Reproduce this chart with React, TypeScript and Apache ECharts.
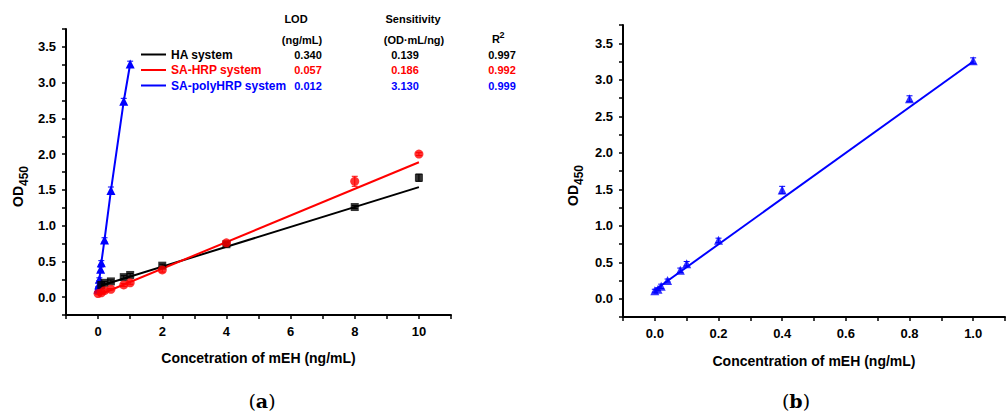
import React, { useEffect, useRef } from 'react';
import * as echarts from 'echarts';

// ---- data ----
const haConc = [0.1, 0.2, 0.4, 0.8, 1, 2, 4, 8, 10];
const haOD = [0.17, 0.2, 0.22, 0.28, 0.31, 0.44, 0.74, 1.26, 1.67];
const haErr = [0.02, 0.02, 0.02, 0.02, 0.02, 0.02, 0.02, 0.02, 0.05];

const hrpConc = [0, 0.1, 0.2, 0.4, 0.8, 1, 2, 4, 8, 10];
const hrpOD = [0.05, 0.06, 0.09, 0.11, 0.17, 0.2, 0.38, 0.76, 1.62, 2.0];
const hrpErr = [0.01, 0.01, 0.01, 0.01, 0.02, 0.02, 0.03, 0.02, 0.07, 0.02];

const polyConc = [0, 0.01, 0.02, 0.04, 0.08, 0.1, 0.2, 0.4, 0.8, 1.0];
const polyOD = [0.11, 0.13, 0.17, 0.25, 0.39, 0.48, 0.8, 1.49, 2.74, 3.26];
const polyErr = [0.02, 0.02, 0.03, 0.02, 0.03, 0.03, 0.03, 0.05, 0.04, 0.04];

// linear fits: [intercept, slope, xStart, xEnd]
const haFit = [0.148, 0.139, 0.1, 10];
const hrpFit = [0.026, 0.186, 0, 10];
const polyFit = [0.12, 3.13, 0, 1];

const systems = ['HA system', 'SA-HRP system', 'SA-polyHRP system'];
const lodVals = ['0.340', '0.057', '0.012'];
const sensVals = ['0.139', '0.186', '3.130'];
const r2Vals = ['0.997', '0.992', '0.999'];
const sysColors = ['#000000', '#ff0000', '#0000ff'];

const xTitleA = 'Concetration of mEH (ng/mL)';
const xTitleB = 'Concentration of mEH (ng/mL)';

const FONT = '"Liberation Sans", Arial, sans-serif';

function fitLine(fit: number[], color: string, idx: number) {
  const [a, b, x0, x1] = fit;
  return {
    type: 'line',
    xAxisIndex: idx,
    yAxisIndex: idx,
    data: [
      [x0, a + b * x0],
      [x1, a + b * x1],
    ],
    symbol: 'none',
    lineStyle: { color, width: 2 },
    z: 2,
    silent: true,
  };
}

function errSeries(xs: number[], ys: number[], es: number[], color: string, idx: number) {
  return {
    type: 'custom',
    xAxisIndex: idx,
    yAxisIndex: idx,
    z: 3,
    silent: true,
    data: xs.map((x, i) => [x, ys[i], es[i]]),
    renderItem: (params: any, api: any) => {
      const x = api.value(0);
      const y = api.value(1);
      const e = api.value(2);
      const t = api.coord([x, y + e]);
      const b = api.coord([x, y - e]);
      const w = 3;
      const st = { stroke: color, lineWidth: 1 };
      return {
        type: 'group',
        children: [
          { type: 'line', shape: { x1: t[0], y1: t[1], x2: b[0], y2: b[1] }, style: st },
          { type: 'line', shape: { x1: t[0] - w, y1: t[1], x2: t[0] + w, y2: t[1] }, style: st },
          { type: 'line', shape: { x1: b[0] - w, y1: b[1], x2: b[0] + w, y2: b[1] }, style: st },
        ],
      };
    },
  };
}

function scatter(xs: number[], ys: number[], color: string, symbol: string, size: number, idx: number) {
  return {
    type: 'scatter',
    xAxisIndex: idx,
    yAxisIndex: idx,
    data: xs.map((x, i) => [x, ys[i]]),
    symbol,
    symbolSize: size,
    itemStyle: { color },
    z: 4,
    silent: true,
  };
}

const axisLine = { show: true, onZero: false, lineStyle: { color: '#000', width: 2 } };
const axisTick = { show: true, inside: false, length: 4, lineStyle: { color: '#000', width: 1.5 } };
const labelStyle = { color: '#000', fontWeight: 'bold', fontSize: 13, fontFamily: FONT };
const nameStyle = { color: '#000', fontWeight: 'bold', fontSize: 14, fontFamily: FONT };

function yAxis(idx: number) {
  return {
    gridIndex: idx,
    type: 'value',
    min: -0.25,
    max: 3.75,
    interval: 0.25,
    axisLine,
    axisTick,
    splitLine: { show: false },
    axisLabel: {
      ...labelStyle,
      margin: 10,
      formatter: (v: number) => {
        const k = Math.round(v * 4);
        if (k % 2 !== 0 || k < 0 || k > 14) return '';
        return (k / 4).toFixed(1);
      },
    },
  };
}

export default function App() {
  const ref = useRef<HTMLDivElement>(null);
  useEffect(() => {
    if (!ref.current) return;
    const chart = echarts.init(ref.current, null, { renderer: 'svg' });

    const graphics: any[] = [];
    // legend
    const legY = [54.5, 70, 85.5];
    systems.forEach((s, i) => {
      graphics.push({
        type: 'line',
        shape: { x1: 141, y1: legY[i], x2: 166, y2: legY[i] },
        style: { stroke: sysColors[i], lineWidth: 2 },
      });
      graphics.push({
        type: 'text',
        x: 171,
        y: legY[i],
        style: {
          text: s,
          fill: sysColors[i],
          font: `bold 12px ${FONT}`,
          textAlign: 'left',
          textVerticalAlign: 'middle',
        },
      });
      graphics.push({
        type: 'text', x: 308, y: legY[i],
        style: { text: lodVals[i], fill: sysColors[i], font: `bold 11px ${FONT}`, textAlign: 'center', textVerticalAlign: 'middle' },
      });
      graphics.push({
        type: 'text', x: 405, y: legY[i],
        style: { text: sensVals[i], fill: sysColors[i], font: `bold 11px ${FONT}`, textAlign: 'center', textVerticalAlign: 'middle' },
      });
      graphics.push({
        type: 'text', x: 502, y: legY[i],
        style: { text: r2Vals[i], fill: sysColors[i], font: `bold 11px ${FONT}`, textAlign: 'center', textVerticalAlign: 'middle' },
      });
    });
    const hdr = (text: string, x: number, y: number, size = 11, align = 'center') => ({
      type: 'text', x, y,
      style: { text, fill: '#000', font: `bold ${size}px ${FONT}`, textAlign: align, textVerticalAlign: 'middle' },
    });
    graphics.push(hdr('LOD', 296, 18.5));
    graphics.push(hdr('(ng/mL)', 302, 39.5));
    graphics.push(hdr('Sensitivity', 413, 18.5));
    graphics.push(hdr('(OD\u00B7mL/ng)', 414, 39.5));
    graphics.push(hdr('R', 492, 39, 11, 'left'));
    graphics.push(hdr('2', 499.5, 34.5, 9, 'left'));

    // y axis titles
    const yTitle = (xOD: number, yOD: number) => [
      {
        type: 'text', x: xOD, y: yOD, rotation: Math.PI / 2,
        style: { text: 'OD', fill: '#000', font: `bold 14px ${FONT}`, textAlign: 'left', textVerticalAlign: 'middle' },
      },
      {
        type: 'text', x: xOD + 6, y: yOD - 21, rotation: Math.PI / 2,
        style: { text: '450', fill: '#000', font: `bold 12px ${FONT}`, textAlign: 'left', textVerticalAlign: 'middle' },
      },
    ];
    graphics.push(...yTitle(18, 207));
    graphics.push(...yTitle(573, 206));

    // panel labels
    const panel = (ch: string, x: number, y: number) => ({
      type: 'text', x, y,
      style: {
        text: `{p|(}{b|${ch}}{p|)}`,
        textAlign: 'center',
        textVerticalAlign: 'middle',
        rich: {
          p: { fontFamily: '"DejaVu Serif", serif', fontSize: 19, lineHeight: 22, fill: '#000' },
          b: { fontFamily: '"DejaVu Serif", serif', fontSize: 19, lineHeight: 22, fontWeight: 'bold', fill: '#000' },
        },
      },
    });
    graphics.push(panel('a', 262, 401));
    graphics.push(panel('b', 796, 401));

    chart.setOption({
      animation: false,
      backgroundColor: '#ffffff',
      grid: [
        { left: 66, top: 29, width: 385, height: 286, containLabel: false },
        { left: 623, top: 25, width: 394, height: 292, containLabel: false },
      ],
      xAxis: [
        {
          gridIndex: 0,
          type: 'value',
          min: -1,
          max: 11,
          interval: 1,
          axisLine,
          axisTick,
          splitLine: { show: false },
          axisLabel: {
            ...labelStyle,
            margin: 10,
            formatter: (v: number) => {
              const k = Math.round(v);
              if (k % 2 !== 0 || k < 0 || k > 10) return '';
              return String(k);
            },
          },
          name: xTitleA,
          nameLocation: 'middle',
          nameGap: 36,
          nameTextStyle: { ...nameStyle, verticalAlign: 'top' },
        },
        {
          gridIndex: 1,
          type: 'value',
          min: -0.1,
          max: 1.1,
          interval: 0.1,
          axisLine,
          axisTick,
          splitLine: { show: false },
          axisLabel: {
            ...labelStyle,
            margin: 10,
            formatter: (v: number) => {
              const k = Math.round(v * 10);
              if (k % 2 !== 0 || k < 0 || k > 10) return '';
              return (k / 10).toFixed(1);
            },
          },
          name: xTitleB,
          nameLocation: 'middle',
          nameGap: 37,
          nameTextStyle: { ...nameStyle, verticalAlign: 'top' },
        },
      ],
      yAxis: [yAxis(0), yAxis(1)],
      series: [
        fitLine(haFit, '#000000', 0),
        fitLine(hrpFit, '#ff0000', 0),
        {
          type: 'line',
          xAxisIndex: 0,
          yAxisIndex: 0,
          data: polyConc.map((x, i) => [x, polyOD[i]]),
          symbol: 'triangle',
          symbolSize: 9,
          itemStyle: { color: '#0000ff' },
          lineStyle: { color: '#0000ff', width: 2 },
          z: 4,
          silent: true,
        },
        errSeries(haConc, haOD, haErr, '#000000', 0),
        errSeries(hrpConc, hrpOD, hrpErr, '#ff0000', 0),
        errSeries(polyConc, polyOD, polyErr, '#0000ff', 0),
        scatter(haConc, haOD, '#000000', 'rect', 8, 0),
        scatter(hrpConc, hrpOD, '#ff0000', 'circle', 9, 0),
        fitLine(polyFit, '#0000ff', 1),
        errSeries(polyConc, polyOD, polyErr, '#0000ff', 1),
        scatter(polyConc, polyOD, '#0000ff', 'triangle', 9, 1),
      ],
      graphic: graphics,
    });
    return () => chart.dispose();
  }, []);
  return (
    <div
      ref={ref}
      style={{ position: 'absolute', left: 0, top: 0, width: 1008, height: 416, background: '#fff' }}
    />
  );
}
